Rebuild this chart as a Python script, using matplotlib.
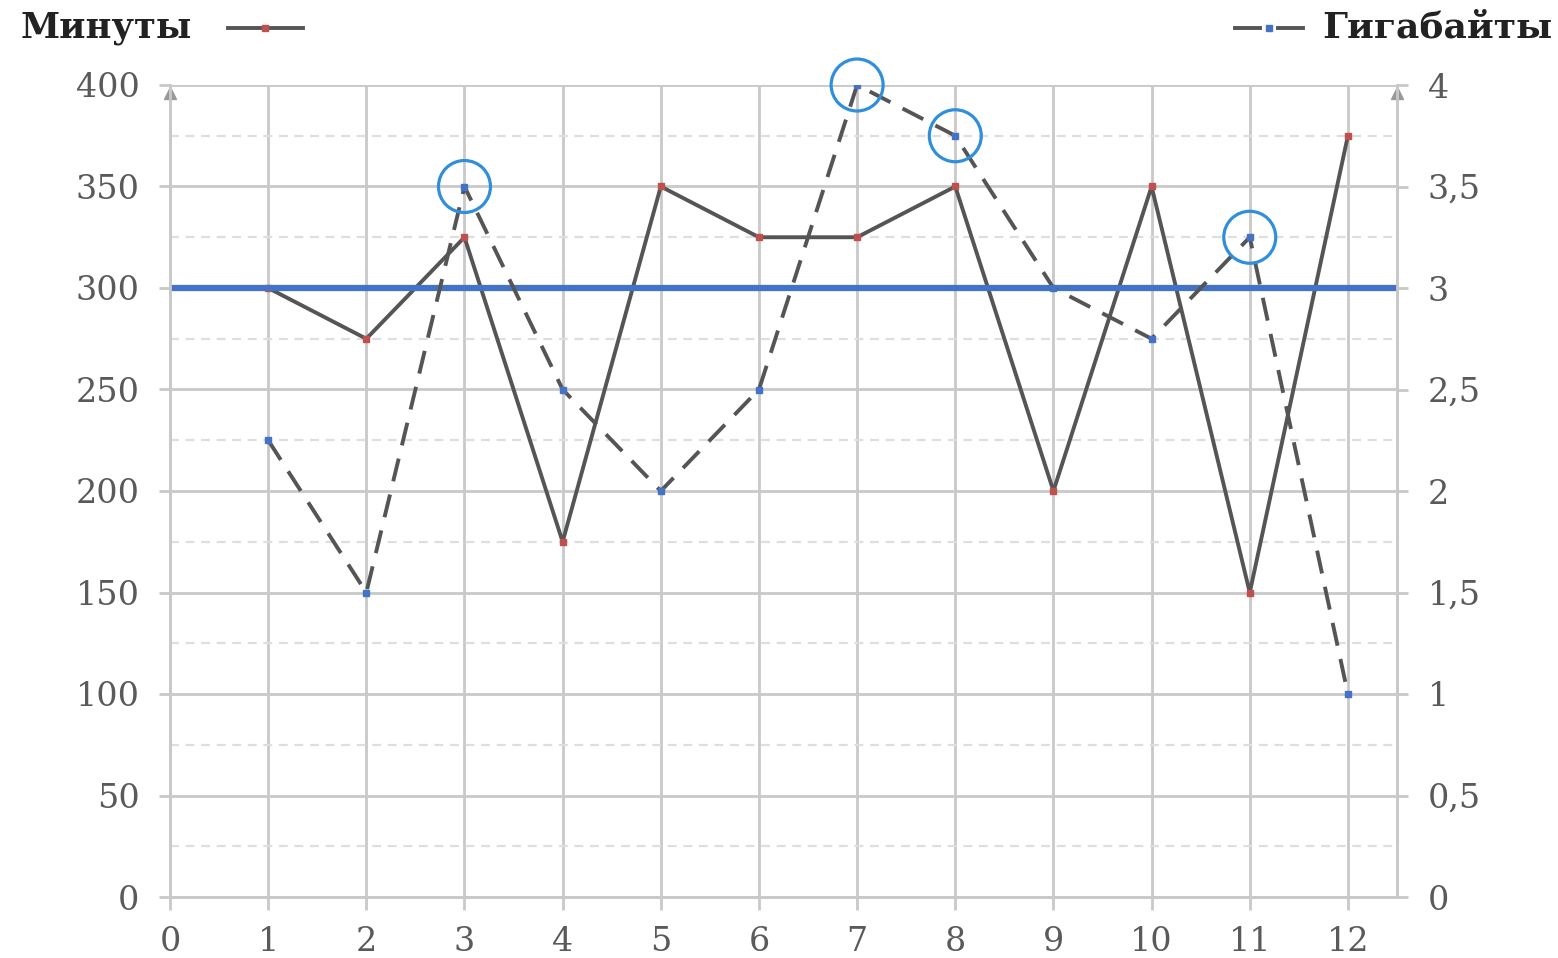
import matplotlib
matplotlib.use("Agg")
import matplotlib.pyplot as plt
from matplotlib.lines import Line2D
import numpy as np

# ---- data ----
months = [1, 2, 3, 4, 5, 6, 7, 8, 9, 10, 11, 12]
minutes = [300, 275, 325, 175, 350, 325, 325, 350, 200, 350, 150, 375]
gigabytes = [2.25, 1.5, 3.5, 2.5, 2.0, 2.5, 4.0, 3.75, 3.0, 2.75, 3.25, 1.0]
highlighted = [3, 7, 8, 11]
threshold_minutes = 300
x_ticks = list(range(0, 13))
left_ticks = [0, 50, 100, 150, 200, 250, 300, 350, 400]
right_ticks = [0, 0.5, 1, 1.5, 2, 2.5, 3, 3.5, 4]
right_labels = ["0", "0,5", "1", "1,5", "2", "2,5", "3", "3,5", "4"]
label_minutes = "Минуты"
label_gb = "Гигабайты"

GRID = "#c9c9c9"
MINOR = "#dedede"
LINE = "#555555"
RED = "#c0504d"
BLUE = "#4472c4"
CIRC = "#2f8fdc"
TXT = "#5a5a5a"
FONT = "DejaVu Serif"

fig = plt.figure(figsize=(15.58, 9.58), dpi=100)
ax = fig.add_axes([170/1558, 1-897/958, (1397-170)/1558, (897-85)/958])
ax2 = ax.twinx()

ax.set_xlim(0, 12.5)
ax.set_ylim(0, 400)
ax2.set_ylim(0, 4)

# grid
ax.set_xticks(x_ticks)
ax.set_yticks(left_ticks)
ax.set_yticks(np.arange(25, 400, 50), minor=True)
ax.grid(True, which="major", color=GRID, lw=2.0, zorder=0)
ax.grid(True, which="minor", axis="y", color=MINOR, lw=1.6, ls=(0, (4, 3)), zorder=0)
ax.set_axisbelow(True)

for a in (ax, ax2):
    for s in a.spines.values():
        s.set_color(GRID)
        s.set_linewidth(2.0)
    a.spines["top"].set_visible(False)

ax.tick_params(axis="x", which="major", length=9, width=2, color=GRID,
               labelsize=24, labelcolor=TXT, pad=12)
ax.tick_params(axis="y", which="major", length=8, width=2, color=GRID,
               labelsize=24, labelcolor=TXT, pad=14)
ax.tick_params(axis="y", which="minor", length=0)
for lab in ax.get_xticklabels() + ax.get_yticklabels():
    lab.set_fontfamily(FONT)

ax2.set_yticks(right_ticks)
ax2.set_yticklabels(right_labels, fontfamily=FONT)
ax2.tick_params(axis="y", length=8, width=2, color=GRID, labelsize=24,
                labelcolor=TXT, pad=14)

# arrows at top of axes
ax.plot([0], [396], marker="^", ms=8, color="#999999", clip_on=False, zorder=3)
ax.plot([12.5], [396], marker="^", ms=8, color="#999999", clip_on=False, zorder=3)

# minutes line
ax.plot(months, minutes, color=LINE, lw=2.8, zorder=3)
ax.plot(months, minutes, ls="none", marker="s", ms=4, color=RED, zorder=4)
# threshold
ax.axhline(threshold_minutes, color=BLUE, lw=4.5, zorder=5)

# gigabytes line
ax2.plot(months, gigabytes, color=LINE, lw=2.8, ls=(0, (6, 3.5)), zorder=3)
ax2.plot(months, gigabytes, ls="none", marker="s", ms=4, color=BLUE, zorder=4)
hx = [m for m in highlighted]
hy = [gigabytes[months.index(m)] for m in highlighted]
ax2.scatter(hx, hy, s=1400, facecolors="none", edgecolors=CIRC, linewidths=2.3,
            zorder=6, clip_on=False)

# legend
ly = 1 - 28/958
fig.text(20/1558, ly, label_minutes, fontsize=25.5, fontweight="bold",
         fontfamily=FONT, color="#222222", ha="left", va="center")
fig.add_artist(Line2D([228/1558, 303/1558], [ly, ly], color=LINE, lw=2.8,
                      transform=fig.transFigure))
fig.add_artist(Line2D([265/1558], [ly], ls="none", marker="s", ms=4, color=RED,
                      transform=fig.transFigure))
fig.text(1553/1558, ly, label_gb, fontsize=26, fontweight="bold",
         fontfamily=FONT, color="#222222", ha="right", va="center")
fig.add_artist(Line2D([1235/1558, 1260/1558], [ly, ly], color=LINE, lw=2.8,
                      transform=fig.transFigure))
fig.add_artist(Line2D([1278/1558, 1303/1558], [ly, ly], color=LINE, lw=2.8,
                      transform=fig.transFigure))
fig.add_artist(Line2D([1269/1558], [ly], ls="none", marker="s", ms=4, color=BLUE,
                      transform=fig.transFigure))

fig.savefig("out.png", dpi=100, facecolor="white")
